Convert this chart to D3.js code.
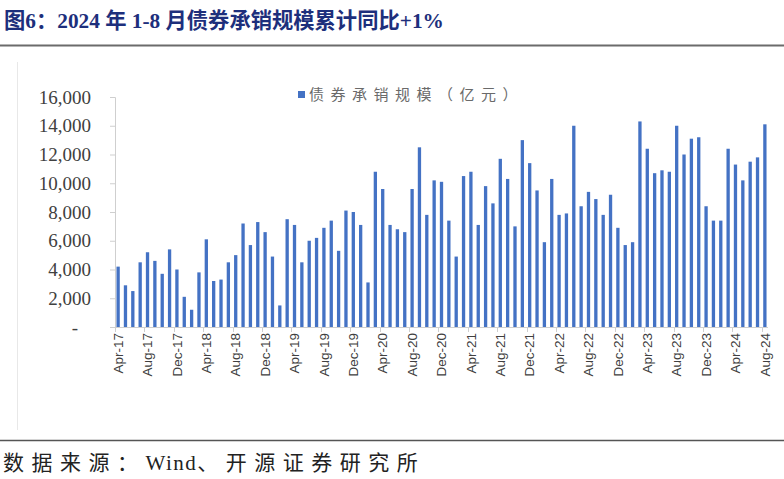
<!DOCTYPE html>
<html>
<head>
<meta charset="utf-8">
<script src="https://cdn.jsdelivr.net/npm/d3@7/dist/d3.min.js"></script>
<style>
  html, body { margin: 0; padding: 0; background: #ffffff; }
  svg { display: block; }
</style>
</head>
<body>
<svg id="chart" width="784" height="479"></svg>
<script>
// ---------------- data ----------------
const titleText = "图6：2024 年 1-8 月债券承销规模累计同比+1%";
const sourceParts = ["数据来源：", "Wind", "、开源证券研究所"];
const seriesName = "债券承销规模（亿元）";

const categories = [
  "Apr-17","May-17","Jun-17","Jul-17","Aug-17","Sep-17","Oct-17","Nov-17","Dec-17",
  "Jan-18","Feb-18","Mar-18","Apr-18","May-18","Jun-18","Jul-18","Aug-18","Sep-18","Oct-18","Nov-18","Dec-18",
  "Jan-19","Feb-19","Mar-19","Apr-19","May-19","Jun-19","Jul-19","Aug-19","Sep-19","Oct-19","Nov-19","Dec-19",
  "Jan-20","Feb-20","Mar-20","Apr-20","May-20","Jun-20","Jul-20","Aug-20","Sep-20","Oct-20","Nov-20","Dec-20",
  "Jan-21","Feb-21","Mar-21","Apr-21","May-21","Jun-21","Jul-21","Aug-21","Sep-21","Oct-21","Nov-21","Dec-21",
  "Jan-22","Feb-22","Mar-22","Apr-22","May-22","Jun-22","Jul-22","Aug-22","Sep-22","Oct-22","Nov-22","Dec-22",
  "Jan-23","Feb-23","Mar-23","Apr-23","May-23","Jun-23","Jul-23","Aug-23","Sep-23","Oct-23","Nov-23","Dec-23",
  "Jan-24","Feb-24","Mar-24","Apr-24","May-24","Jun-24","Jul-24","Aug-24"
];

const values = [
  4200, 2900, 2500, 4500, 5200, 4600, 3700, 5400, 4000,
  2100, 1200, 3800, 6100, 3200, 3300, 4500, 5000, 7200, 5700, 7300, 6600,
  4900, 1500, 7500, 7100, 4500, 6000, 6200, 6900, 7400, 5300, 8100, 8000,
  7100, 3100, 10800, 9600, 7100, 6800, 6600, 9600, 12500, 7800, 10200, 10100,
  7400, 4900, 10500, 10800, 7100, 9800, 8600, 11700, 10300, 7000, 13000, 11400,
  9500, 5900, 10300, 7800, 7900, 14000, 8400, 9400, 8900, 7800, 9200, 6900,
  5700, 5900, 14300, 12400, 10700, 10900, 10800, 14000, 12000, 13100, 13200, 8400,
  7400, 7400, 12400, 11300, 10200, 11500, 11800, 14100
];

const xTickLabels = categories.filter((d, i) => i % 4 === 0);
const yTicks = [0, 2000, 4000, 6000, 8000, 10000, 12000, 14000, 16000];

// ---------------- drawing ----------------
const svg = d3.select("#chart");
const W = 784, H = 479;
const plot = { left: 115, right: 768, top: 97, bottom: 327 };
const barColor = "#4472C4";
const axisColor = "#cfcfcf";

// title
svg.append("text")
  .attr("x", 4).attr("y", 28)
  .attr("font-family", "'Liberation Serif', 'Noto Sans CJK SC', serif")
  .attr("font-weight", "bold")
  .attr("font-size", 21.3)
  .attr("fill", "#1d2f7c")
  .text(titleText);

// title rule
svg.append("line")
  .attr("x1", 0).attr("x2", W).attr("y1", 45.5).attr("y2", 45.5)
  .attr("stroke", "#6b6b6b").attr("stroke-width", 2);

// faint chart frame left edge
svg.append("line")
  .attr("x1", 17.5).attr("x2", 17.5).attr("y1", 62).attr("y2", 430)
  .attr("stroke", "#e8e8e8").attr("stroke-width", 1);

// scales
const x = d3.scaleBand().domain(categories).range([plot.left, plot.right]).paddingInner(0.55).paddingOuter(0.2);
const y = d3.scaleLinear().domain([0, 16000]).range([plot.bottom, plot.top]);

// bars
svg.append("g").selectAll("rect")
  .data(values)
  .join("rect")
  .attr("x", (d, i) => x(categories[i]))
  .attr("width", x.bandwidth())
  .attr("y", d => y(d))
  .attr("height", d => y(0) - y(d))
  .attr("fill", barColor);

// y axis
const yAxis = d3.axisLeft(y)
  .tickValues(yTicks)
  .tickSize(5)
  .tickPadding(19)
  .tickFormat(d => d === 0 ? "-" : d3.format(",")(d));
const gy = svg.append("g").attr("transform", `translate(${plot.left},0)`).call(yAxis);
gy.select(".domain").attr("stroke", axisColor);
gy.selectAll(".tick line").attr("stroke", axisColor);
gy.selectAll(".tick text")
  .attr("font-family", "'Liberation Serif', 'Times New Roman', serif")
  .attr("font-size", 19)
  .attr("fill", "#404040");
gy.selectAll(".tick").filter(d => d === 0).select("text").attr("dx", -13);

// x axis: ticks at left boundary of every 4th category
const step = x.step();
const xAxisG = svg.append("g");
xAxisG.append("line")
  .attr("x1", plot.left).attr("x2", plot.right)
  .attr("y1", y(0) + 0.5).attr("y2", y(0) + 0.5)
  .attr("stroke", axisColor);
xAxisG.selectAll("line.tk")
  .data(xTickLabels)
  .join("line")
  .attr("class", "tk")
  .attr("x1", d => Math.round(plot.left + categories.indexOf(d) * step) + 0.5)
  .attr("x2", d => Math.round(plot.left + categories.indexOf(d) * step) + 0.5)
  .attr("y1", y(0)).attr("y2", y(0) + 5)
  .attr("stroke", axisColor);
xAxisG.selectAll("text")
  .data(xTickLabels)
  .join("text")
  .attr("transform", d => `translate(${x(d) + x.bandwidth() / 2},${y(0) + 6}) rotate(-90)`)
  .attr("text-anchor", "end")
  .attr("dy", "0.35em")
  .attr("font-family", "'Liberation Sans', Arial, sans-serif")
  .attr("font-size", 13.5)
  .attr("fill", "#404040")
  .text(d => d);

// legend
const lg = svg.append("g").attr("transform", "translate(298,91)");
lg.append("rect").attr("x", 0).attr("y", 0).attr("width", 7).attr("height", 7).attr("fill", barColor);
lg.append("text")
  .attr("x", 11).attr("y", 3.5)
  .attr("dy", "0.35em")
  .attr("font-family", "'Noto Sans CJK SC', sans-serif")
  .attr("font-size", 15)
  .attr("letter-spacing", 6.5)
  .attr("fill", "#6a6a6a")
  .text(seriesName);

// source rule and text
svg.append("line")
  .attr("x1", 0).attr("x2", W).attr("y1", 440.5).attr("y2", 440.5)
  .attr("stroke", "#555555").attr("stroke-width", 1.5);
const src = svg.append("text")
  .attr("x", 3).attr("y", 470)
  .attr("font-family", "'Liberation Serif', 'Noto Sans CJK SC', serif")
  .attr("font-size", 21)
  .attr("fill", "#222222");
src.append("tspan").attr("letter-spacing", 7.5).text(sourceParts[0]);
src.append("tspan").attr("letter-spacing", 1.5).text(sourceParts[1]);
src.append("tspan").attr("letter-spacing", 7.5).text(sourceParts[2]);
</script>
</body>
</html>
